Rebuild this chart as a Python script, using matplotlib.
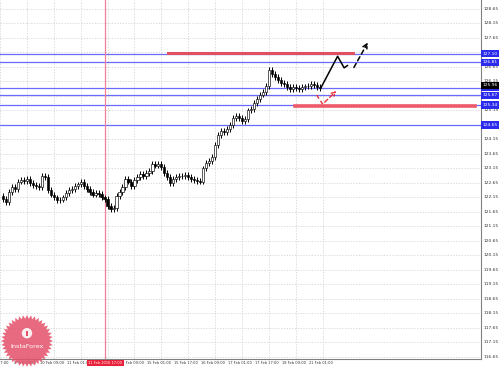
import numpy as np
import matplotlib
matplotlib.use("Agg")
import matplotlib.pyplot as plt
from matplotlib.patches import Rectangle, Polygon, Circle

# closing prices, one per candle (H1-ish bars)
closes = [122.10, 122.00, 122.35, 122.50, 122.45, 122.70, 122.75, 122.72, 122.78, 122.65,
          122.58, 122.55, 122.50, 122.90, 122.85, 122.40, 122.25, 122.15, 122.05, 122.08,
          122.15, 122.30, 122.40, 122.45, 122.55, 122.60, 122.70, 122.55, 122.45, 122.35,
          122.25, 122.30, 122.28, 122.15, 122.10, 121.85, 121.75, 121.80, 122.20, 122.35,
          122.50, 122.80, 122.70, 122.55, 122.75, 122.85, 122.95, 122.90, 123.00, 123.05,
          123.30, 123.25, 123.30, 123.20, 123.00, 122.85, 122.65, 122.80, 122.85, 122.90,
          122.88, 122.92, 122.85, 122.80, 122.75, 122.72, 122.70, 123.15, 123.35, 123.40,
          123.55, 123.95, 124.30, 124.45, 124.40, 124.50, 124.65, 124.90, 124.95, 124.90,
          124.80, 124.85, 125.15, 125.20, 125.40, 125.55, 125.70, 125.80, 126.00, 126.55,
          126.40, 126.30, 126.20, 126.10, 126.05, 125.95, 125.90, 125.95, 125.92, 125.88,
          125.95, 125.98, 126.00, 126.05, 126.02, 125.95, 125.92]
first_open = 122.20
wick = 0.1

blue_levels = [127.10, 126.81, 125.93, 125.67, 125.34, 124.65]
blue_tags = ["127.10", "126.81", "125.93", "125.67", "125.34", "124.65"]
bid_price = 126.02
bid_tag = "125.96"

price_ticks = [116.65, 117.15, 117.65, 118.15, 118.65, 119.15, 119.65, 120.15, 120.65,
               121.15, 121.65, 122.15, 122.65, 123.15, 123.65, 124.15, 124.65, 125.15,
               125.65, 126.15, 126.65, 127.15, 127.65, 128.15, 128.65]

grid_pos = [-1, 8, 17, 26, 35, 44, 53, 62, 71, 80, 89, 98, 107]
time_labels = ["8 Feb 17:00", "9 Feb 09:00", "10 Feb 09:00", "11 Feb 01:00", "",
               "12 Feb 09:00", "15 Feb 01:00", "15 Feb 17:00", "16 Feb 09:00",
               "17 Feb 01:00", "17 Feb 17:00", "18 Feb 09:00", "21 Feb 01:00"]
cursor_x = 34.3
cursor_label = "11 Feb 2016 17:00"

# hand-drawn analysis marks (candle index, price)
red_top = ([55.3, 117.0], [127.13, 127.13])
red_low = ([97.7, 158.0], [125.32, 125.32])
black_solid = ([106.5, 112.0, 114.2, 115.3], [125.95, 127.02, 126.62, 126.70])
black_dash = ([117.0, 122.6], [126.55, 127.58])
red_dash = ([105.0, 107.0, 112.3], [125.68, 125.37, 125.89])

fig = plt.figure(figsize=(4.99, 3.68), dpi=100)
ax = fig.add_axes([0, 9 / 368, 481 / 499, 359 / 368])
ax.set_xlim(-1 / 3, 160)
ax.set_ylim(116.58, 128.96)

ax.set_xticks(grid_pos)
ax.set_yticks(price_ticks)
ax.grid(True, color="#cfcfcf", lw=0.5, ls=(0, (2, 2)))
ax.tick_params(length=0, labelbottom=False, labelleft=False)
for s in ["top", "left"]:
    ax.spines[s].set_visible(False)
for s in ["right", "bottom"]:
    ax.spines[s].set_color("#808080")
    ax.spines[s].set_linewidth(0.8)

# candles
opens = [first_open] + closes[:-1]
for i, (o, c) in enumerate(zip(opens, closes)):
    ax.vlines(i, min(o, c) - wick, max(o, c) + wick, color="black", lw=0.7, zorder=3)
    ax.add_patch(Rectangle((i - 0.38, min(o, c)), 0.76, max(abs(c - o), 0.02),
                           fc="white" if c >= o else "black", ec="black", lw=0.45, zorder=4))

for lv in blue_levels:
    ax.axhline(lv, color="#6a6aff", lw=0.9, zorder=2)
ax.axvline(cursor_x, color="#f07f97", lw=0.9, zorder=2)

ax.plot(*red_top, color="#e0505e", lw=2.2, zorder=5)
ax.plot(*red_low, color="#ef5a68", lw=2.6, zorder=5)
ax.plot(*black_solid, color="black", lw=1.1, zorder=6)
ax.annotate("", xy=(black_dash[0][1], black_dash[1][1]), xytext=(black_dash[0][0], black_dash[1][0]),
            arrowprops=dict(arrowstyle="->", color="black", lw=1.1, ls=(0, (3, 2)),
                            mutation_scale=8), zorder=6)
ax.plot(red_dash[0][:2], red_dash[1][:2], color="#e8303c", lw=1.0, ls=(0, (3, 2)), zorder=6)
ax.annotate("", xy=(red_dash[0][2], red_dash[1][2]), xytext=(red_dash[0][1], red_dash[1][1]),
            arrowprops=dict(arrowstyle="->", color="#e8303c", lw=1.0, ls=(0, (3, 2)),
                            mutation_scale=7), zorder=6)

# right price scale
ytr = ax.get_yaxis_transform()
for p in price_ticks:
    ax.text(1.006, p, f"{p:.2f}", transform=ytr, fontsize=3.2, color="#333333",
            va="center", ha="left", clip_on=False)
for lv, tag in zip(blue_levels, blue_tags):
    ax.text(1.004, lv, tag, transform=ytr, fontsize=3.2, color="white", va="center",
            ha="left", clip_on=False, zorder=10,
            bbox=dict(fc="#2b2bee", ec="none", boxstyle="square,pad=0.35"))
ax.text(1.004, bid_price, bid_tag, transform=ytr, fontsize=3.2, color="white", va="center",
        ha="left", clip_on=False, zorder=11,
        bbox=dict(fc="black", ec="none", boxstyle="square,pad=0.35"))

# time scale
xtr = ax.get_xaxis_transform()
for x, lab in zip(grid_pos, time_labels):
    ax.text(x - 0.7, -0.012, lab, transform=xtr, fontsize=2.6, color="#333333",
            va="center", ha="center", clip_on=False)
ax.text(cursor_x, -0.012, cursor_label, transform=xtr, fontsize=2.6, color="white",
        va="center", ha="center", clip_on=False, zorder=10,
        bbox=dict(fc="#e8203a", ec="none", boxstyle="square,pad=0.3"))

# watermark
wm = fig.add_axes([1 / 499, 1 / 368, 52 / 499, 52 / 368])
wm.set_xlim(-1, 1)
wm.set_ylim(-1, 1)
wm.axis("off")
ang = np.linspace(0, 2 * np.pi, 81)[:-1]
rad = np.where(np.arange(80) % 2 == 0, 1.0, 0.86)
wm.add_patch(Polygon(np.c_[rad * np.cos(ang), rad * np.sin(ang)], closed=True,
                     fc="#e4506a", ec="none", alpha=0.85))
wm.add_patch(Circle((0, 0.3), 0.2, fc="white", ec="none", alpha=0.9))
wm.add_patch(Rectangle((-0.04, 0.18), 0.08, 0.22, fc="#e4506a", ec="none"))
wm.text(0, -0.22, "InstaForex", color="white", fontsize=4.6, ha="center", va="center")

fig.savefig("out.png", dpi=100)
